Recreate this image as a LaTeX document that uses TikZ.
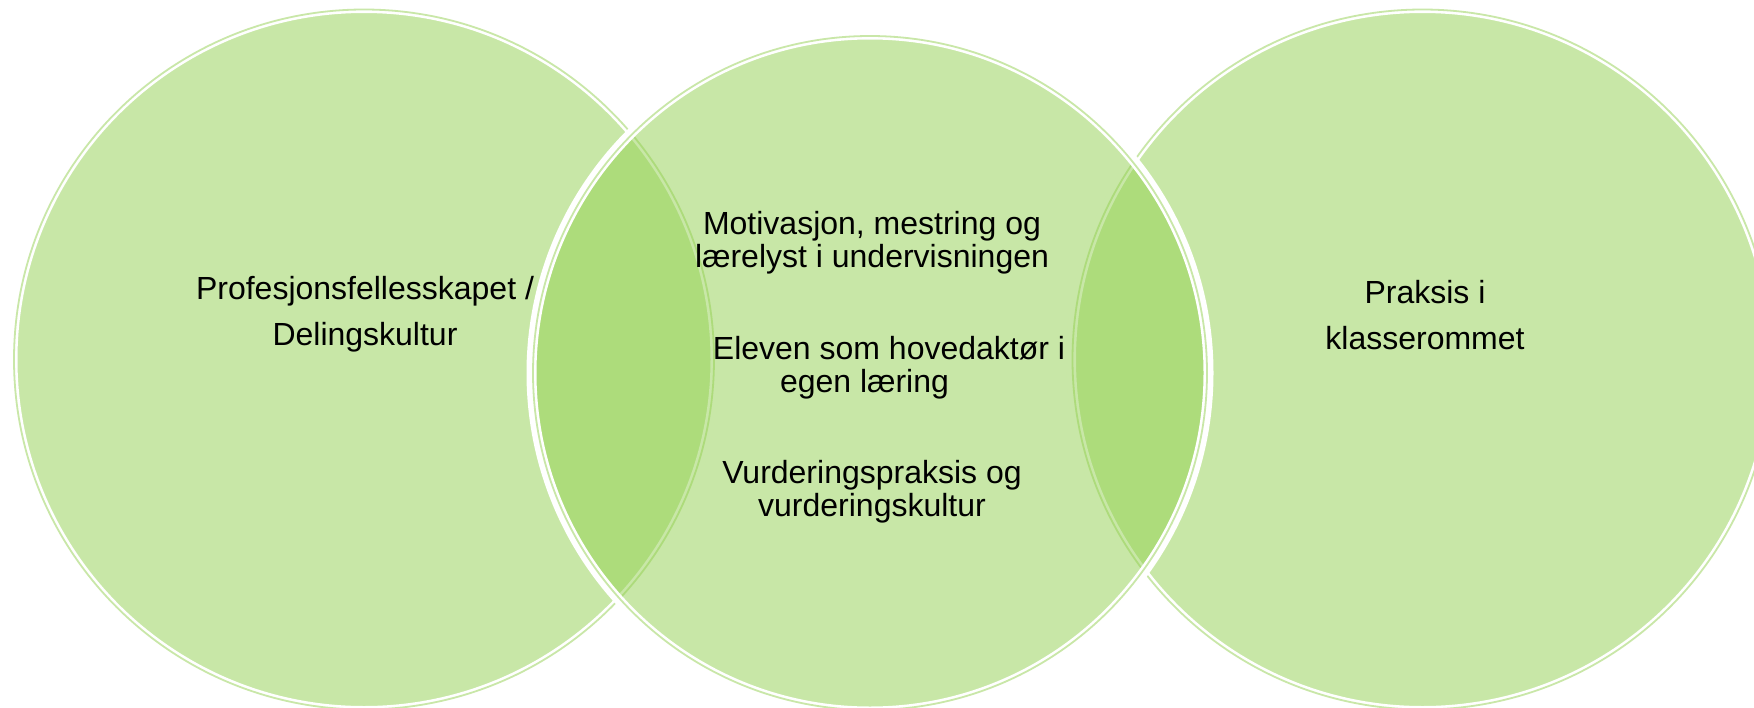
\documentclass[tikz,border=0pt]{standalone}
\usepackage{fontspec}
\setmainfont{Liberation Sans}

\definecolor{venngreen}{HTML}{92D050}

\tikzset{
	vennfill/.style={fill=venngreen, fill opacity=.5},
	vennband/.style={draw=white, line width=10pt},
	vennline/.style={draw=venngreen!50, line width=1.8pt},
	venntext/.style={align=center, text=black, inner sep=0pt, font=\fontsize{32}{46}\selectfont},
	venninner/.style={venntext, font=\fontsize{32}{33}\selectfont}
}

\begin{document}
\begin{tikzpicture}[x=1pt,y=-1pt]
		\useasboundingbox (0,0) rectangle (1754,707);

		\coordinate (leftc) at (364,359.5);
		\coordinate (rightc) at (1422.5,359.5);
		\coordinate (midc) at (870,373);

		% left circle
		\fill[vennfill] (leftc) circle (350);
		\draw[vennband] (leftc) circle (351.5);
		\draw[vennline] (leftc) circle (350);

		% right circle
		\fill[vennfill] (rightc) circle (350);
		\draw[vennband] (rightc) circle (351.5);
		\draw[vennline] (rightc) circle (350);

		% middle circle on top
		\fill[vennfill] (midc) circle (337);
		\draw[vennband] (midc) circle (338.5);
		\draw[vennline] (midc) circle (337);

		\node[venntext] (deling) at (365,314.6) {Profesjonsfellesskapet /\\Delingskultur};
		\node[venntext] (praksis) at (1425,314.6) {Praksis i\\klasserommet};

		\node[venninner] (motivasjon) at (872,242.6) {Motivasjon, mestring og\\lærelyst i undervisningen};
		\node[venninner] (eleven) at (889,367.6) {Eleven som hovedaktør i\\egen læring\hspace*{49pt}};
		\node[venninner] (vurdering) at (872,491.8) {Vurderingspraksis og\\vurderingskultur};

		%\node[venninner] (eleven) at (872,367.6) {Eleven som hovedaktør i\\egen læring};
	\end{tikzpicture}
\end{document}
